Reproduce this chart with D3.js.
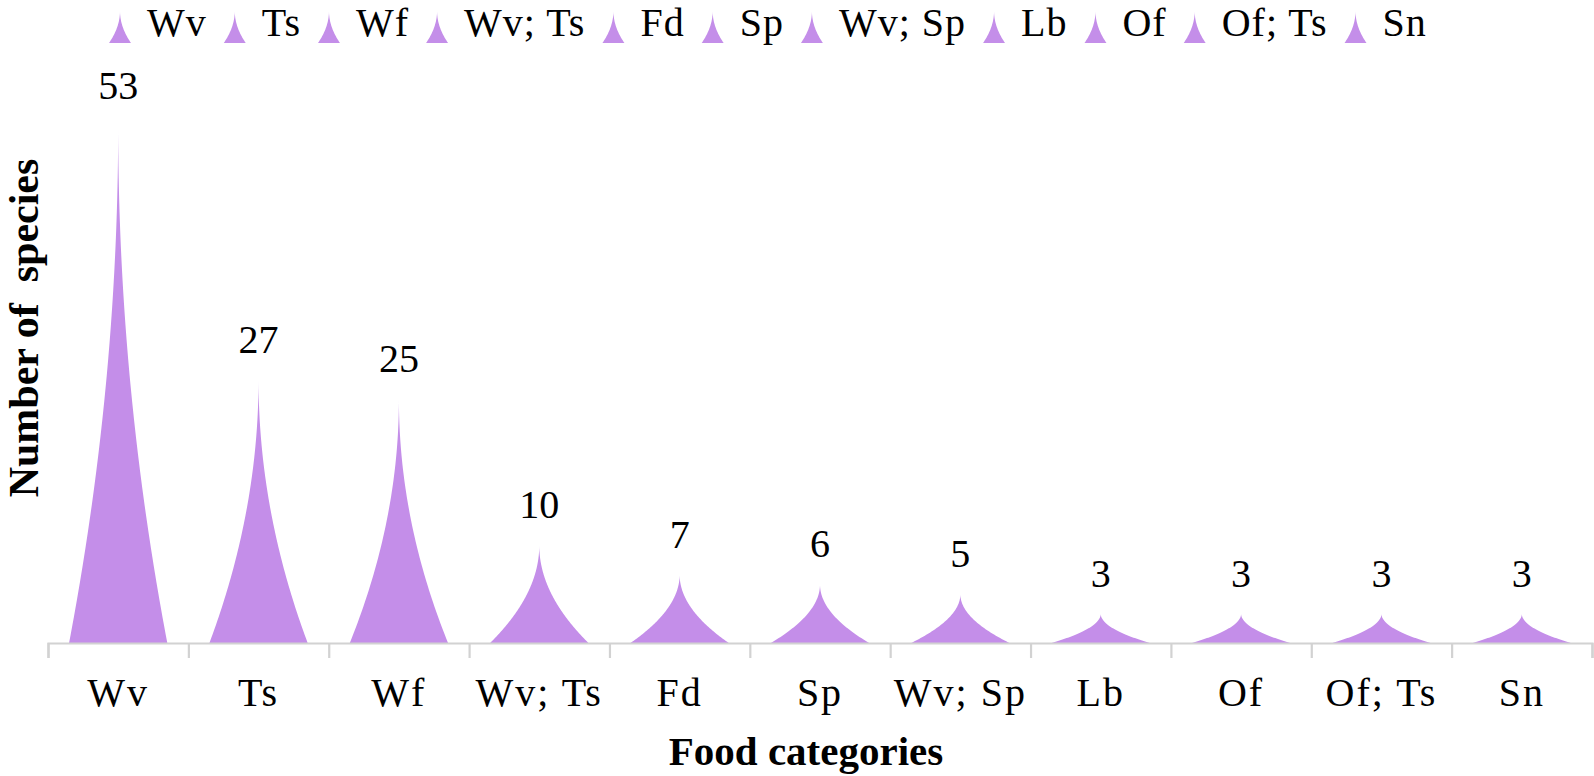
<!doctype html>
<html lang="en">
<head>
  <meta charset="UTF-8" />
  <script src="https://cdn.jsdelivr.net/npm/d3@7"></script>
  <style>
    body { margin: 0; background: #fff; }
    text { font-family: "Liberation Serif", "Times New Roman", serif; fill: #000; }
    .lbl { font-size: 40px; }
    .ttl { font-size: 41px; font-weight: bold; }
    .axis path, .axis line { stroke: #d2d2d2; stroke-width: 2.2; }
  </style>
  <title>Food categories</title>
</head>
<body>
  <script>
    var categories = ["Wv", "Ts", "Wf", "Wv; Ts", "Fd", "Sp", "Wv; Sp", "Lb", "Of", "Of; Ts", "Sn"];
    var counts = [53, 27, 25, 10, 7, 6, 5, 3, 3, 3, 3];

    var W = 1594, H = 776;
    var purple = "#c48ee9";

    var svg = d3.select("body").append("svg")
      .attr("width", W).attr("height", H);

    var x = d3.scaleBand().domain(categories).range([48, 1592]).padding(0);
    var y = d3.scaleLinear().domain([0, 53]).range([643, 126]);

    // spike shape: concave sides meeting at a sharp tip
    function spike(cx, base, top, hw) {
      var pts = [];
      var n = 60;
      for (var i = 0; i <= n; i++) {
        var t = i / n;
        pts.push([cx - hw * (1 - t) * (1 - t), base - (base - top) * t]);
      }
      for (var j = n - 1; j >= 0; j--) {
        var t2 = j / n;
        pts.push([cx + hw * (1 - t2) * (1 - t2), base - (base - top) * t2]);
      }
      return d3.line()(pts) + "Z";
    }

    svg.append("g").selectAll("path")
      .data(categories)
      .enter().append("path")
      .attr("fill", purple)
      .attr("d", function (d, i) {
        return spike(x(d) + x.bandwidth() / 2, y(0), y(counts[i]), x.bandwidth() * 0.35);
      });

    // value labels
    svg.append("g").selectAll("text")
      .data(categories)
      .enter().append("text")
      .attr("class", "lbl")
      .attr("text-anchor", "middle")
      .attr("x", function (d) { return x(d) + x.bandwidth() / 2; })
      .attr("y", function (d, i) { return y(counts[i]) - 27; })
      .text(function (d, i) { return counts[i]; });

    // x axis with ticks on category boundaries
    var xb = d3.scaleLinear().domain([0, categories.length]).range(x.range());
    svg.append("g").attr("class", "axis")
      .attr("transform", "translate(0," + y(0) + ")")
      .call(d3.axisBottom(xb).ticks(categories.length).tickSize(15).tickSizeOuter(15).tickFormat(""));

    svg.append("g").selectAll("text")
      .data(categories)
      .enter().append("text")
      .attr("class", "lbl")
      .attr("text-anchor", "middle")
      .attr("letter-spacing", "2px")
      .attr("x", function (d) { return x(d) + x.bandwidth() / 2; })
      .attr("y", 706)
      .text(function (d) { return d; });

    svg.append("text").attr("class", "ttl")
      .attr("text-anchor", "middle")
      .attr("x", 806).attr("y", 765)
      .text("Food categories");

    svg.append("text").attr("class", "ttl")
      .attr("text-anchor", "middle")
      .style("font-size", "42px")
      .attr("transform", "translate(38,328) rotate(-90)")
      .style("white-space", "pre")
      .text("Number of  species");

    // legend
    var legend = svg.append("g");
    var cx = 120;
    categories.forEach(function (c) {
      legend.append("path")
        .attr("fill", purple)
        .attr("d", spike(cx, 43, 11, 11));
      var t = legend.append("text").attr("class", "lbl")
        .attr("letter-spacing", "1px")
        .attr("x", cx + 27).attr("y", 36).text(c);
      cx = cx + 27 + t.node().getComputedTextLength() + 28;
    });
  </script>
</body>
</html>
